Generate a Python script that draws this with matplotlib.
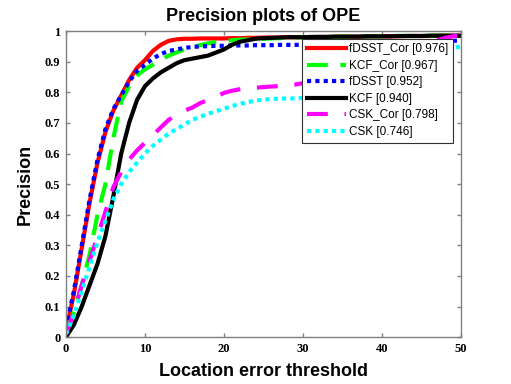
import numpy as np
import matplotlib
matplotlib.use("Agg")
import matplotlib.pyplot as plt

# location error thresholds 0..50
thresholds = list(range(51))

fdsst_cor = [0.02, 0.14, 0.29, 0.44, 0.57, 0.67, 0.74, 0.79, 0.84, 0.88,
             0.905, 0.935, 0.955, 0.968, 0.973, 0.975, 0.975, 0.976, 0.976, 0.976,
             0.976, 0.977, 0.977, 0.978, 0.978, 0.979, 0.979, 0.979, 0.98, 0.98,
             0.98, 0.98, 0.981, 0.981, 0.981, 0.982, 0.982, 0.982, 0.982, 0.983,
             0.983, 0.983, 0.983, 0.984, 0.984, 0.984, 0.984, 0.985, 0.985, 0.985,
             0.985]
kcf_cor = [0.02, 0.08, 0.17, 0.27, 0.40, 0.50, 0.65, 0.77, 0.82, 0.855,
           0.875, 0.89, 0.905, 0.92, 0.93, 0.94, 0.948, 0.954, 0.96, 0.964,
           0.967, 0.97, 0.972, 0.973, 0.974, 0.975, 0.976, 0.977, 0.978, 0.979,
           0.98, 0.98, 0.981, 0.981, 0.981, 0.982, 0.982, 0.982, 0.983, 0.983,
           0.983, 0.984, 0.984, 0.984, 0.984, 0.985, 0.985, 0.985, 0.985, 0.985,
           0.985]
fdsst = [0.03, 0.15, 0.30, 0.45, 0.58, 0.68, 0.745, 0.79, 0.835, 0.87,
         0.89, 0.91, 0.925, 0.935, 0.94, 0.945, 0.948, 0.95, 0.951, 0.952,
         0.952, 0.953, 0.953, 0.953, 0.954, 0.954, 0.954, 0.955, 0.955, 0.955,
         0.955, 0.956, 0.956, 0.956, 0.957, 0.957, 0.957, 0.958, 0.958, 0.958,
         0.959, 0.959, 0.96, 0.96, 0.961, 0.962, 0.963, 0.965, 0.967, 0.968,
         0.97]
kcf = [0.0, 0.04, 0.10, 0.17, 0.24, 0.33, 0.46, 0.60, 0.70, 0.775,
       0.82, 0.845, 0.865, 0.88, 0.895, 0.905, 0.91, 0.915, 0.92, 0.93,
       0.94, 0.955, 0.965, 0.97, 0.975, 0.977, 0.978, 0.979, 0.98, 0.98,
       0.98, 0.981, 0.981, 0.981, 0.982, 0.982, 0.982, 0.982, 0.983, 0.983,
       0.983, 0.983, 0.984, 0.984, 0.984, 0.984, 0.985, 0.985, 0.985, 0.985,
       0.985]
csk_cor = [0.01, 0.08, 0.17, 0.25, 0.33, 0.41, 0.49, 0.54, 0.58, 0.61,
           0.635, 0.66, 0.685, 0.71, 0.725, 0.74, 0.75, 0.765, 0.775, 0.785,
           0.798, 0.805, 0.81, 0.813, 0.815, 0.817, 0.819, 0.82, 0.822, 0.825,
           0.83, 0.835, 0.84, 0.845, 0.85, 0.86, 0.87, 0.88, 0.89, 0.9,
           0.91, 0.92, 0.93, 0.94, 0.95, 0.96, 0.965, 0.97, 0.978, 0.983,
           0.988]
csk = [0.01, 0.07, 0.15, 0.23, 0.31, 0.38, 0.45, 0.50, 0.54, 0.57,
       0.60, 0.625, 0.645, 0.665, 0.68, 0.695, 0.71, 0.72, 0.73, 0.738,
       0.746, 0.755, 0.762, 0.768, 0.773, 0.776, 0.778, 0.779, 0.78, 0.78,
       0.782, 0.785, 0.79, 0.795, 0.8, 0.805, 0.81, 0.815, 0.82, 0.83,
       0.84, 0.85, 0.86, 0.87, 0.88, 0.89, 0.9, 0.915, 0.93, 0.945,
       0.95]

labels = ['fDSST_Cor [0.976]', 'KCF_Cor [0.967]', 'fDSST [0.952]',
          'KCF [0.940]', 'CSK_Cor [0.798]', 'CSK [0.746]']

fig = plt.figure(figsize=(5.11, 3.84), dpi=100)
ax = fig.add_axes([0.129, 0.122, 0.773, 0.797])

series = [fdsst_cor, kcf_cor, fdsst, kcf, csk_cor, csk]
colours = ['#ff0000', '#00ff00', '#0000ff', '#000000', '#ff00ff', '#00ffff']
styles = ['-', (0, (5, 3)), (0, (1, 1)), '-', (0, (5, 4)), (0, (1, 1))]

for i in range(len(series)):
    ax.plot(thresholds, series[i], color=colours[i], linestyle=styles[i],
            linewidth=3, label=labels[i], dash_capstyle='butt')

ax.set_xlim(0, 50)
ax.set_ylim(0, 1)
ax.set_xticks(range(0, 51, 10))
ax.set_yticks(np.arange(0, 1.01, 0.1))
ax.set_yticklabels(['0', '0.1', '0.2', '0.3', '0.4', '0.5', '0.6', '0.7', '0.8', '0.9', '1'])

for s in ax.spines.values():
    s.set_color('#808080')
    s.set_linewidth(1)
ax.tick_params(direction='in', length=3, width=1, color='#808080',
               top=True, right=True, pad=4)
for lab in ax.get_xticklabels() + ax.get_yticklabels():
    lab.set_fontfamily('Liberation Serif')
    lab.set_fontweight('bold')
    lab.set_fontsize(9)

ax.set_title('Precision plots of OPE', fontsize=13, fontweight='bold',
             family='Liberation Sans', pad=7)
ax.set_xlabel('Location error threshold', fontsize=13, fontweight='bold',
              family='Liberation Sans', labelpad=6)
ax.set_ylabel('Precision', fontsize=13, fontweight='bold',
              family='Liberation Sans', labelpad=8)

leg = ax.legend(loc='upper right', prop={'family': 'Liberation Sans', 'size': 8.5},
                fancybox=False, framealpha=1, edgecolor='#303030',
                handlelength=3.3, labelspacing=0.38, borderaxespad=0.65,
                handletextpad=0.3, borderpad=0.4)
leg.get_frame().set_linewidth(0.8)

fig.savefig('out.png', dpi=100)
